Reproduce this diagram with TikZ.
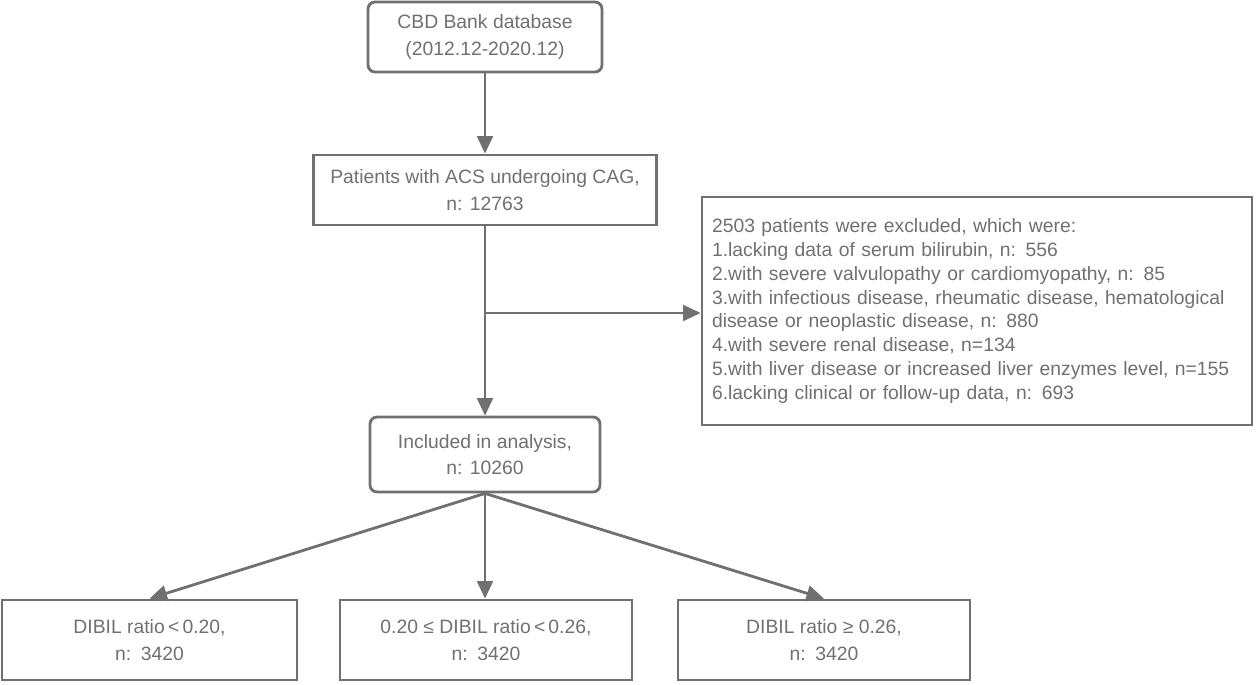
\documentclass[tikz,border=0pt]{standalone}
\usepackage{fontspec}
\setmainfont{Liberation Sans}
\usetikzlibrary{arrows.meta}
\definecolor{flowgray}{HTML}{707070}
\begin{document}
\begin{tikzpicture}[
  box/.style = {draw=flowgray, line width=1.6pt, text=flowgray, align=center, minimum height=1.4cm, font=\fontsize{11}{15}\selectfont},
  rbox/.style = {box, rounded corners=4pt},
  link/.style = {draw=flowgray, line width=1.6pt, -{Triangle[length=10pt,width=9pt]}}]
\useasboundingbox (0,0) rectangle (25.12,-13.68);

\node[rbox, minimum width=4.68cm] (db) at (9.70,-0.74) {CBD Bank database\\(2012.12-2020.12)};
\node[box, minimum width=6.86cm] (pat) at (9.70,-3.80) {Patients with ACS undergoing CAG,\\n: 12763};
\node[box, minimum width=11.0cm, minimum height=4.56cm, align=left, text width=10.6cm,
  font=\fontsize{11}{13.5}\selectfont] (exc) at (19.54,-6.22)
  {2503 patients were excluded, which were:\\
   1.lacking data of serum bilirubin, n: 556\\
   2.with severe valvulopathy or cardiomyopathy, n: 85\\
   3.with infectious disease, rheumatic disease, hematological\\
   disease or neoplastic disease, n: 880\\
   4.with severe renal disease, n=134\\
   5.with liver disease or increased liver enzymes level, n=155\\
   6.lacking clinical or follow-up data, n: 693};
\node[rbox, minimum width=4.6cm, minimum height=1.5cm] (inc) at (9.70,-9.09) {Included in analysis,\\n: 10260};
\node[box, minimum width=5.9cm, minimum height=1.6cm] (low) at (2.99,-12.80) {DIBIL ratio\,<\,0.20,\\n:\enspace 3420};
\node[box, minimum width=5.84cm, minimum height=1.6cm] (mid) at (9.72,-12.80) {0.20 ≤ DIBIL ratio\,<\,0.26,\\n:\enspace 3420};
\node[box, minimum width=5.84cm, minimum height=1.6cm] (high) at (16.48,-12.80) {DIBIL ratio ≥ 0.26,\\n:\enspace 3420};
\coordinate (split) at (9.70,-6.26);

\draw[link] (db) -- (pat);
\draw[link] (pat) -- (inc);
\draw[link] (split) -- (split -| exc.west);
\draw[link] (inc.south) -- (low.north);
\draw[link] (inc.south) -- (mid.north -| inc.south);
\draw[link] (inc.south) -- (high.north);
\end{tikzpicture}
\end{document}
